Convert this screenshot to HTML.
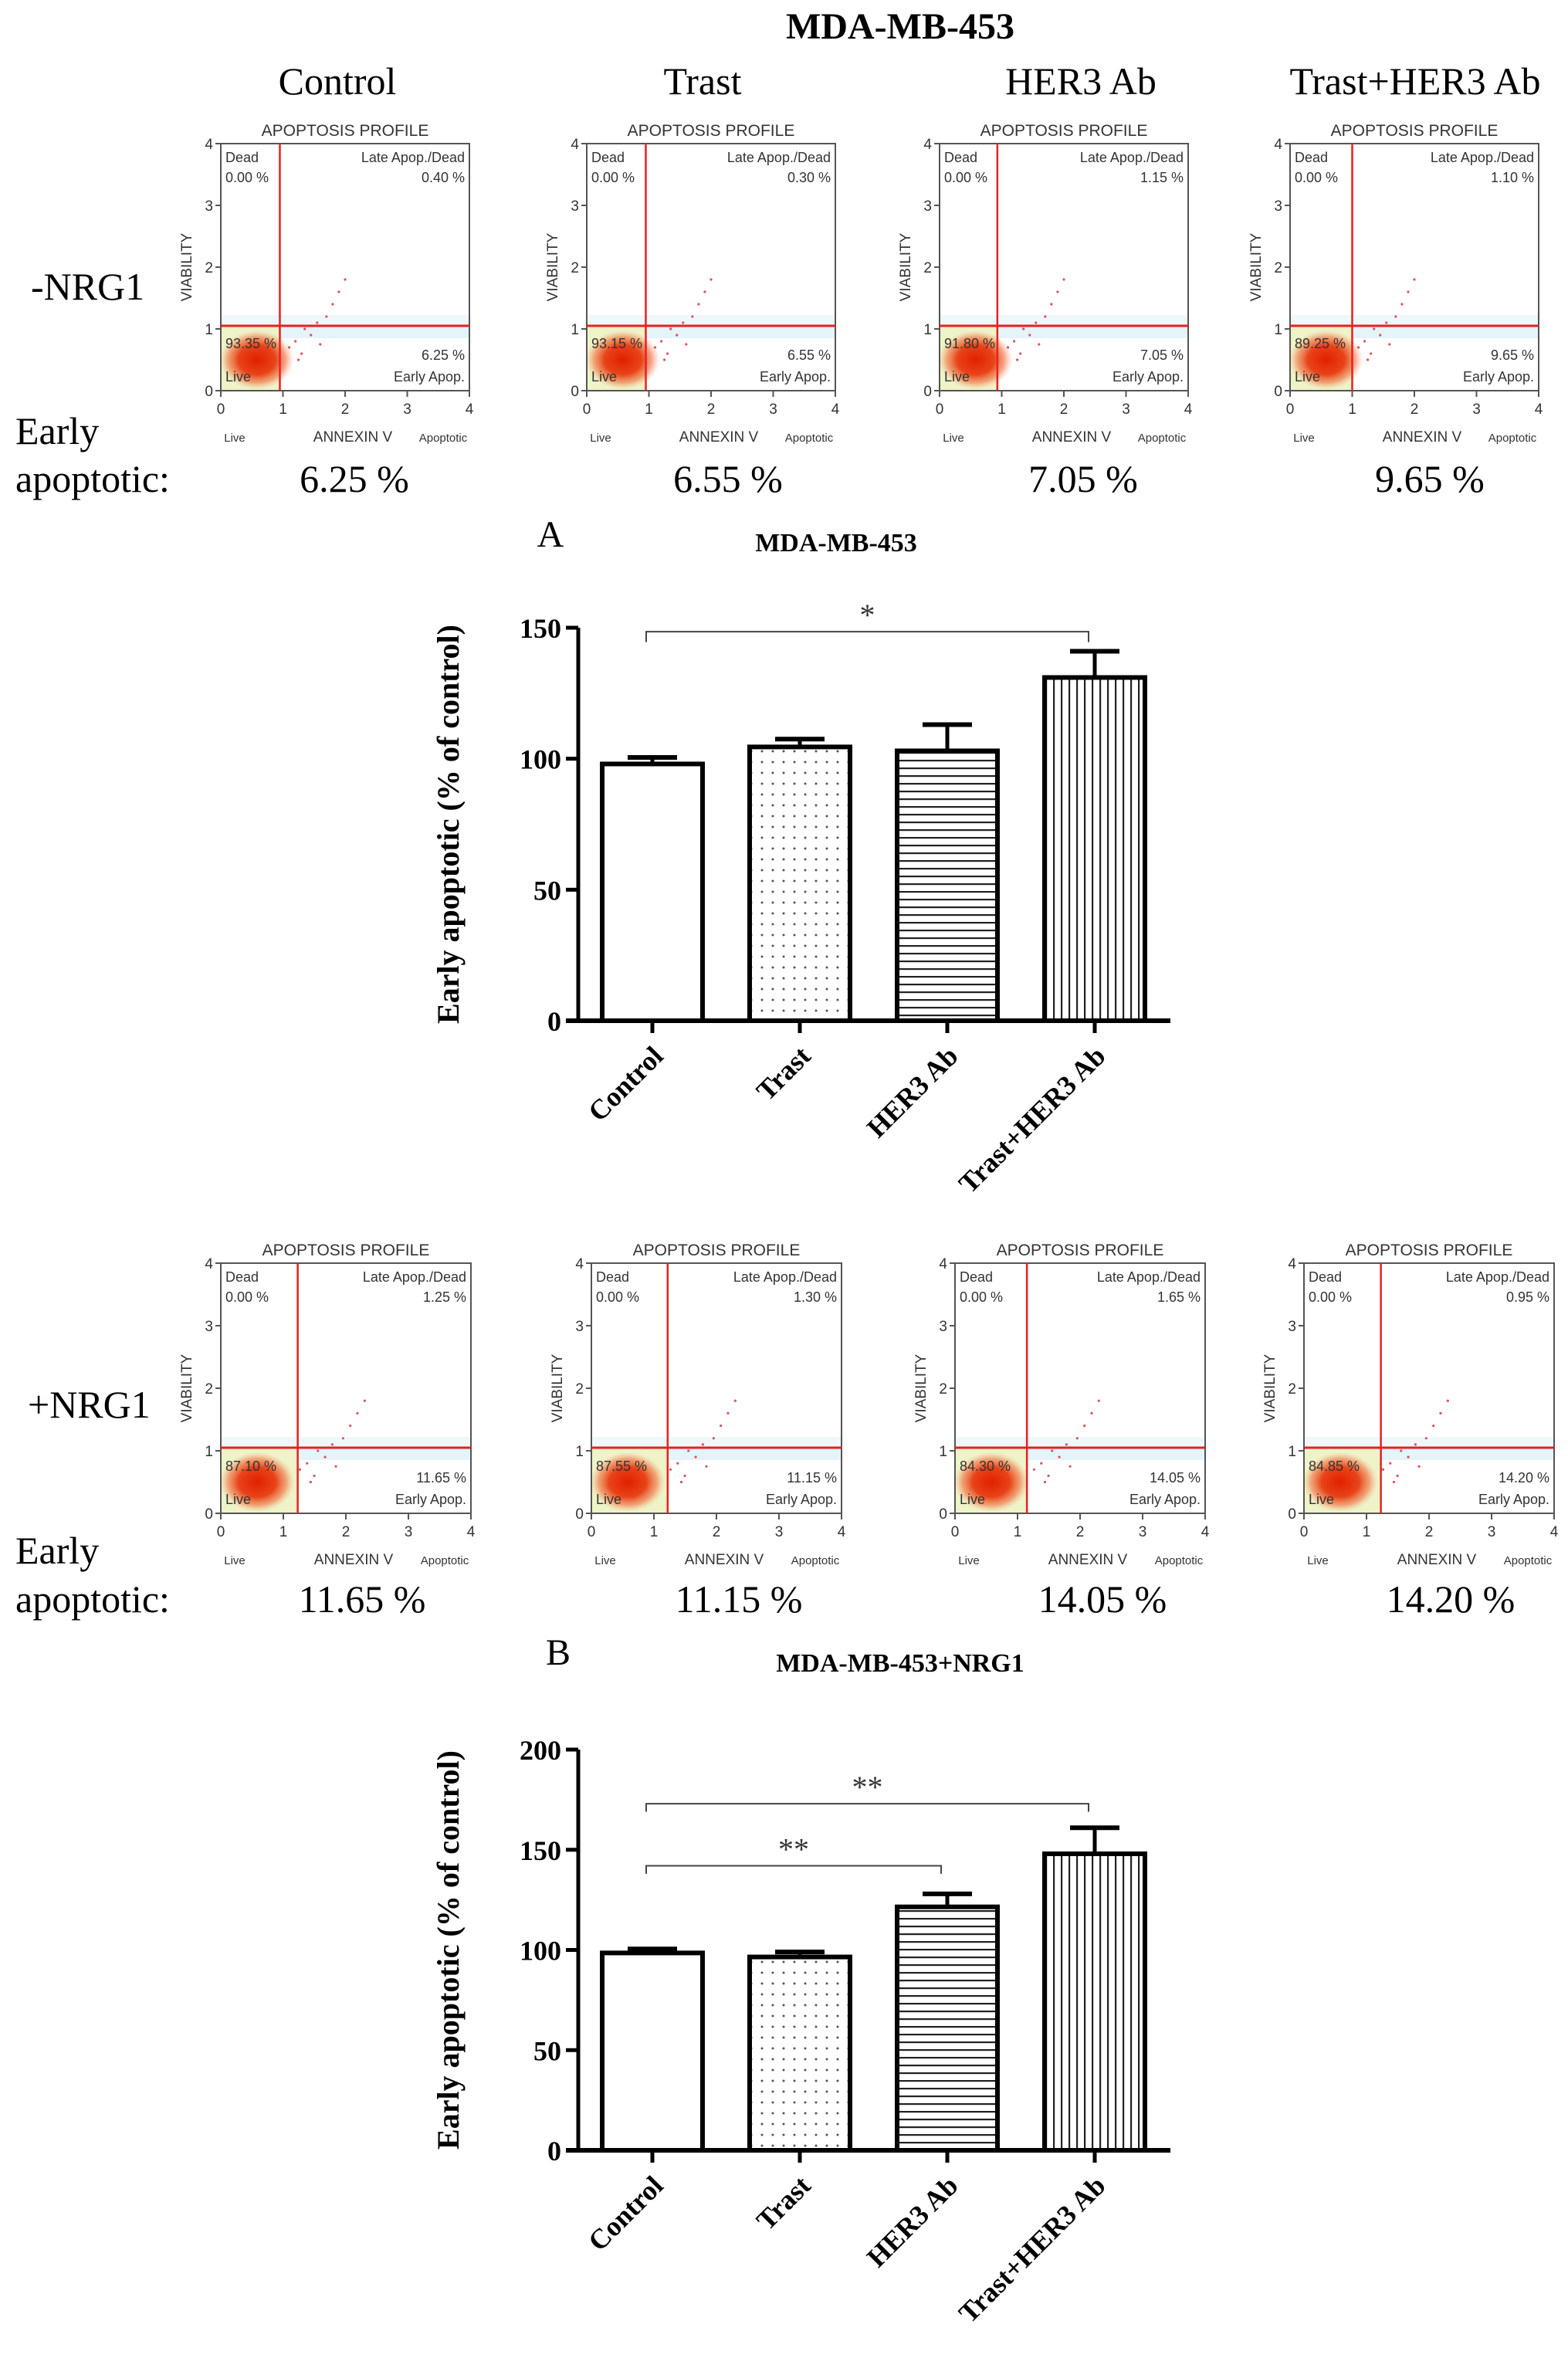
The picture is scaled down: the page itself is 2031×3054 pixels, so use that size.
<!DOCTYPE html>
<html><head><meta charset="utf-8">
<style>
html,body{margin:0;padding:0;background:#fff;}
svg{display:block;}
.serif{font-family:"Liberation Serif",serif;}
.sans{font-family:"Liberation Sans",sans-serif;}
</style></head>
<body>
<svg id="fig" width="2031" height="3054" viewBox="0 0 2031 3054" xmlns="http://www.w3.org/2000/svg">
<defs>
<pattern id="pDots" width="14" height="14" patternUnits="userSpaceOnUse"><circle cx="7" cy="7" r="1.5" fill="#555"/></pattern>
<pattern id="pH" width="10" height="10" patternUnits="userSpaceOnUse"><rect x="0" y="4" width="10" height="2.2" fill="#222"/></pattern>
<pattern id="pV" width="10" height="10" patternUnits="userSpaceOnUse"><rect x="4" y="0" width="2.2" height="10" fill="#222"/></pattern>
<radialGradient id="blob" cx="50%" cy="50%" r="50%">
<stop offset="0%" stop-color="#e02000"/><stop offset="50%" stop-color="#e83a10" stop-opacity="0.95"/><stop offset="78%" stop-color="#f07040" stop-opacity="0.6"/><stop offset="100%" stop-color="#f8b090" stop-opacity="0"/>
</radialGradient>
</defs>
<text class="serif" x="1166" y="50" font-size="48" font-weight="bold" text-anchor="middle">MDA-MB-453</text>
<text class="serif" x="437" y="122" font-size="50" text-anchor="middle">Control</text>
<text class="serif" x="910" y="122" font-size="50" text-anchor="middle">Trast</text>
<text class="serif" x="1400" y="122" font-size="50" text-anchor="middle">HER3 Ab</text>
<text class="serif" x="1833" y="122" font-size="50" text-anchor="middle">Trast+HER3 Ab</text>
<text class="serif" x="40" y="388" font-size="50">-NRG1</text>
<text class="serif" x="36" y="1836" font-size="50">+NRG1</text>
<text class="serif" x="20" y="575" font-size="50">Early</text>
<text class="serif" x="20" y="637" font-size="50">apoptotic:</text>
<text class="serif" x="20" y="2025" font-size="50">Early</text>
<text class="serif" x="20" y="2088" font-size="50">apoptotic:</text>
<text class="serif" x="713" y="708" font-size="48" text-anchor="middle">A</text>
<text class="serif" x="1083" y="714" font-size="34" font-weight="bold" text-anchor="middle">MDA-MB-453</text>
<text class="serif" x="723" y="2156" font-size="48" text-anchor="middle">B</text>
<text class="serif" x="1166" y="2165" font-size="34" font-weight="bold" text-anchor="middle">MDA-MB-453+NRG1</text>
<g id="flows"></g>
<g id="chartA"></g>
<g id="chartB"></g>
</svg>
<script>
// ---- flow cytometry data ----
const flowLiveA = ["93.35","93.15","91.80","89.25"];
const flowLateA = ["0.40","0.30","1.15","1.10"];
const flowEarlyA = ["6.25","6.55","7.05","9.65"];
const flowGateXA = [0.95,0.95,0.93,1.0];
const flowLiveB = ["87.10","87.55","84.30","84.85"];
const flowLateB = ["1.25","1.30","1.65","0.95"];
const flowEarlyB = ["11.65","11.15","14.05","14.20"];
const flowGateXB = [1.23,1.22,1.15,1.23];
const flowTicks = [0,1,2,3,4];
const trailX = [1.1,1.2,1.3,1.45,1.55,1.7,1.8,1.25,1.6,1.9,2.0,1.35];
const trailY = [0.7,0.8,0.6,0.9,1.1,1.2,1.4,0.5,0.75,1.6,1.8,1.0];
// ---- bar chart data ----
const categories = ["Control","Trast","HER3 Ab","Trast+HER3 Ab"];
const valuesA = [98,104.5,103,131];
const errorsA = [2.5,3,10,10];
const ticksA = [0,50,100,150];
const valuesB = [98.5,96.5,121.5,148];
const errorsB = [2,2.5,6.5,13];
const ticksB = [0,50,100,150,200];

const NS="http://www.w3.org/2000/svg";
function mk(parent,tag,attrs,text){const e=document.createElementNS(NS,tag);for(const k in attrs)e.setAttribute(k,attrs[k]);if(text!==undefined)e.textContent=text;parent.appendChild(e);return e;}

function drawFlow(g,x0,y0,w,h,live,late,early,gx,idx,row){
  const sx=v=>x0+v/4*w, sy=v=>y0+h-v/4*h;
  const pg=mk(g,'g',{});
  
  
  mk(pg,'rect',{x:x0,y:sy(1.05),width:sx(gx)-x0,height:sy(0)-sy(1.05),fill:'#eef3c8'});
  mk(pg,'rect',{x:sx(gx),y:sy(1.05),width:x0+w-sx(gx),height:16,fill:'#e4f4f8'});
  mk(pg,'rect',{x:x0,y:sy(1.05)-14,width:w,height:14,fill:'#eef8fb'});
  mk(pg,'ellipse',{cx:sx(0.58),cy:sy(0.5),rx:w*0.15,ry:h*0.12,fill:'url(#blob)'});
  for(let i=0;i<trailX.length;i++){
    const d=mk(pg,'circle',{cx:sx(trailX[i]*(gx>1.1?1.15:1)),cy:sy(trailY[i]),r:1.6,fill:'#e05060'});
    
    
  }
  mk(pg,'rect',{x:x0,y:y0,width:w,height:h,fill:'none',stroke:'#555','stroke-width':2});
  mk(pg,'line',{x1:sx(gx),y1:y0,x2:sx(gx),y2:y0+h,stroke:'#e82020','stroke-width':2.5});
  mk(pg,'line',{x1:x0,y1:sy(1.05),x2:x0+w,y2:sy(1.05),stroke:'#e82020','stroke-width':3});
  flowTicks.forEach(t=>{
    mk(pg,'line',{x1:x0-7,y1:sy(t),x2:x0,y2:sy(t),stroke:'#555','stroke-width':2});
    mk(pg,'text',{x:x0-10,y:sy(t)+7,'font-size':19,'text-anchor':'end',class:'sans',fill:'#333'},String(t));
    mk(pg,'line',{x1:sx(t),y1:y0+h,x2:sx(t),y2:y0+h+8,stroke:'#555','stroke-width':2});
    mk(pg,'text',{x:sx(t),y:y0+h+30,'font-size':19,'text-anchor':'middle',class:'sans',fill:'#333'},String(t));
  });
  const T=(x,y,s,anchor,size,name)=>{const e=mk(pg,'text',{x:x,y:y,'font-size':size||18,'text-anchor':anchor||'start',class:'sans',fill:'#333'},s);return e;};
  T(x0+w/2,y0-10,'APOPTOSIS PROFILE','middle',21,'plot-title');
  T(x0+6,y0+24,'Dead','start',18,'dead-label');
  T(x0+6,y0+50,'0.00 %','start',18,'dead-value');
  T(x0+w-6,y0+24,'Late Apop./Dead','end',18,'late-label');
  T(x0+w-6,y0+50,late+' %','end',18,'late-value');
  T(x0+6,y0+h-55,live+' %','start',18,'live-value');
  T(x0+6,y0+h-12,'Live','start',18,'live-label');
  T(x0+w-6,y0+h-40,early+' %','end',18,'early-value');
  T(x0+w-6,y0+h-12,'Early Apop.','end',18,'early-label');
  T(x0+18,y0+h+66,'Live','middle',15,'x-live');
  T(x0+w/2+10,y0+h+66,'ANNEXIN V','middle',19,'x-axis-title');
  T(x0+w-34,y0+h+66,'Apoptotic','middle',15,'x-apoptotic');
  const v=T(0,0,'VIABILITY','middle',19,'y-axis-title');
  v.setAttribute('transform','translate('+(x0-38)+','+(y0+h/2)+') rotate(-90)');
}
const flows=document.getElementById('flows');
const rowAX=[286,760,1217,1671], rowBX=[286,766,1237,1689];
const pctAX=[459,943,1403,1852], pctBX=[469,957,1428,1879];
for(let i=0;i<4;i++){
  drawFlow(flows,rowAX[i],186,322,320,flowLiveA[i],flowLateA[i],flowEarlyA[i],flowGateXA[i],i,'a');
  drawFlow(flows,rowBX[i],1636,324,324,flowLiveB[i],flowLateB[i],flowEarlyB[i],flowGateXB[i],i,'b');
  const ta=mk(flows,'text',{x:pctAX[i],y:637,'font-size':50,'text-anchor':'middle',class:'serif'},flowEarlyA[i]+' %');
  
  
  const tb=mk(flows,'text',{x:pctBX[i],y:2088,'font-size':50,'text-anchor':'middle',class:'serif'},flowEarlyB[i]+' %');
  
  
}

const fills=['#fff','url(#pDots)','url(#pH)','url(#pV)'];
function drawBars(g,cfg,values,errors,ticks,brackets){
  const y=v=>cfg.y0-(v/cfg.ymax)*(cfg.y0-cfg.ytop);
  const xAxisL=cfg.ax, xAxisR=cfg.axR;
  const yt=mk(g,'text',{'font-size':40,'font-weight':'bold','text-anchor':'middle',class:'serif',transform:'translate(594,'+((cfg.y0+cfg.ytop)/2)+') rotate(-90)'},'Early apoptotic (% of control)');
  
  
  ticks.forEach(t=>{
    mk(g,'line',{x1:xAxisL-16,y1:y(t),x2:xAxisL,y2:y(t),stroke:'#000','stroke-width':5});
    const tl=mk(g,'text',{x:xAxisL-22,y:y(t)+13,'font-size':36,'font-weight':'bold','text-anchor':'end',class:'serif'},String(t));
    
    
  });
  values.forEach((v,i)=>{
    const cx=cfg.c0+i*cfg.pitch, bw=cfg.bw;
    mk(g,'line',{x1:cx,y1:y(v),x2:cx,y2:y(v+errors[i]),stroke:'#000','stroke-width':5});
    mk(g,'line',{x1:cx-32,y1:y(v+errors[i]),x2:cx+32,y2:y(v+errors[i]),stroke:'#000','stroke-width':6});
    const b=mk(g,'rect',{x:cx-bw/2,y:y(v),width:bw,height:y(0)-y(v),fill:fills[i],stroke:'#000','stroke-width':6});
    
    
    mk(g,'line',{x1:cx,y1:cfg.y0,x2:cx,y2:cfg.y0+16,stroke:'#000','stroke-width':5});
    const lb=mk(g,'text',{'font-size':36,'font-weight':'bold','text-anchor':'end',class:'serif',transform:'translate('+(cx+16)+','+(cfg.y0+48)+') rotate(-45)'},categories[i]);
    
    
  });
  mk(g,'line',{x1:xAxisL,y1:cfg.ytop,x2:xAxisL,y2:cfg.y0,stroke:'#000','stroke-width':5});
  mk(g,'line',{x1:xAxisL-16,y1:cfg.y0,x2:xAxisR,y2:cfg.y0,stroke:'#000','stroke-width':6});
  brackets.forEach(br=>{
    const x1=cfg.c0+br.from*cfg.pitch-8, x2=cfg.c0+br.to*cfg.pitch-8, yy=y(br.level), leg=y(br.level-4);
    const p=mk(g,'path',{d:'M'+x1+','+leg+' V'+yy+' H'+x2+' V'+leg,fill:'none',stroke:'#444','stroke-width':2});
    
    
    const s=mk(g,'text',{x:(x1+x2)/2,y:yy-8,'font-size':40,'text-anchor':'middle',class:'serif',fill:'#333'},br.label);
    
    
  });
}
const bracketsA=[{from:0,to:3,level:148.5,label:'*'}];
const bracketsB=[{from:0,to:2,level:142,label:'**'},{from:0,to:3,level:173,label:'**'}];
drawBars(document.getElementById('chartA'),{y0:1322,ytop:813,ymax:150,ax:749,axR:1516,c0:845,pitch:191,bw:130},valuesA,errorsA,ticksA,bracketsA);
drawBars(document.getElementById('chartB'),{y0:2785,ytop:2266,ymax:200,ax:749,axR:1516,c0:845,pitch:191,bw:130},valuesB,errorsB,ticksB,bracketsB);
</script>
</body></html>
